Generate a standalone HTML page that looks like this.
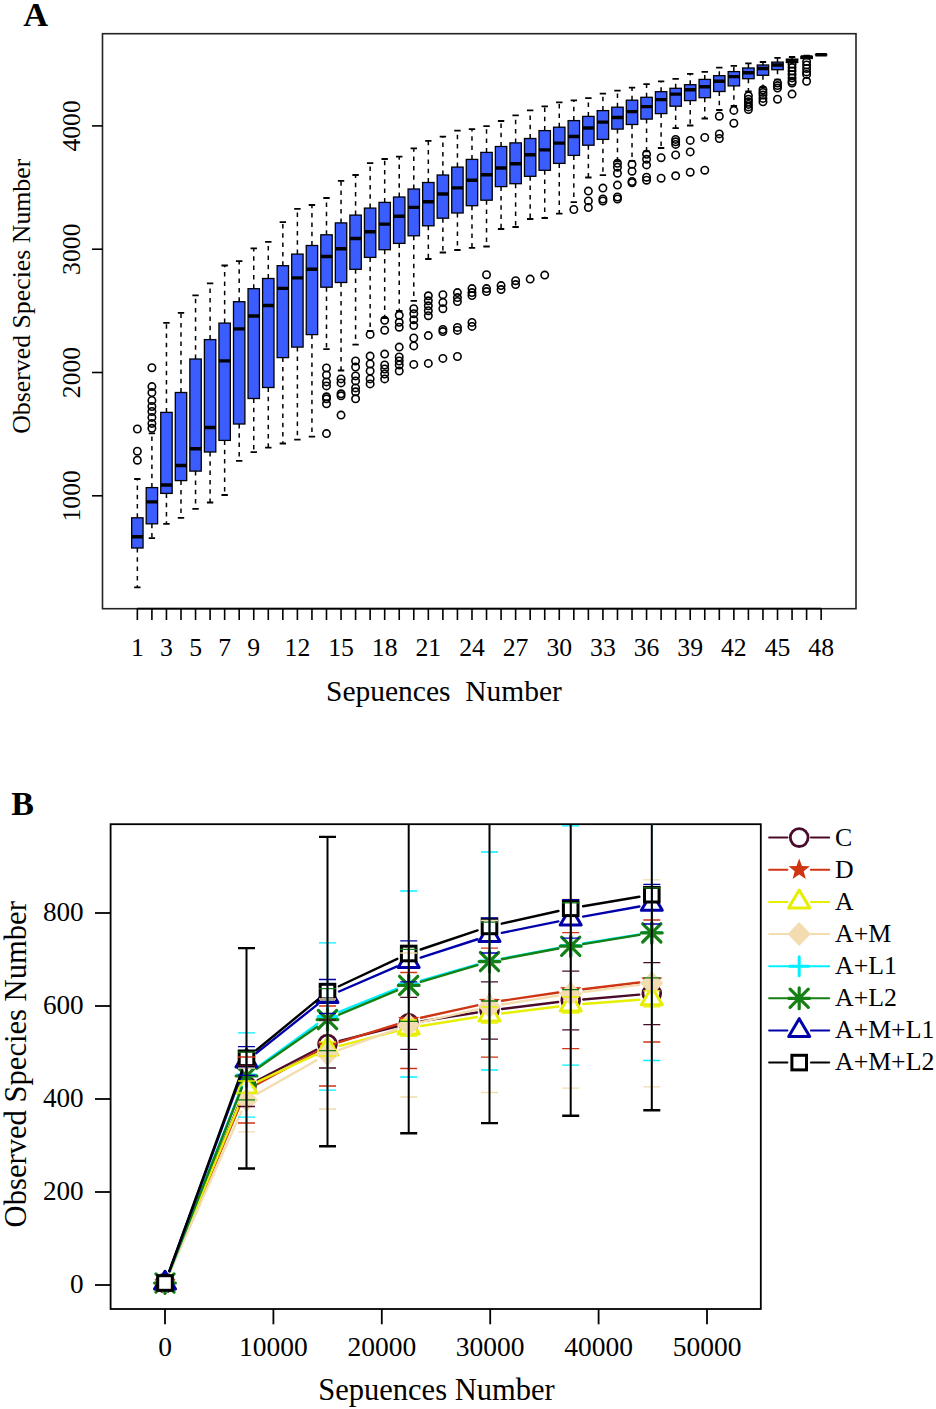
<!DOCTYPE html>
<html><head><meta charset="utf-8"><style>
html,body{margin:0;padding:0;background:#fff;}
svg{display:block;}
.t{font-family:"Liberation Serif",serif;fill:#000;}
</style></head><body>
<svg width="936" height="1409" viewBox="0 0 936 1409">
<rect width="936" height="1409" fill="#fff"/>
<rect x="102.5" y="33.7" width="753.5" height="575" fill="none" stroke="#222" stroke-width="1.6"/>
<path d="M137.35 608.7H821.15" stroke="#000" stroke-width="1.8"/>
<path d="M137.35 608.7V620M151.9 608.7V620M166.45 608.7V620M181 608.7V620M195.55 608.7V620M210.09 608.7V620M224.64 608.7V620M239.19 608.7V620M253.74 608.7V620M268.29 608.7V620M282.84 608.7V620M297.39 608.7V620M311.94 608.7V620M326.49 608.7V620M341.04 608.7V620M355.58 608.7V620M370.13 608.7V620M384.68 608.7V620M399.23 608.7V620M413.78 608.7V620M428.33 608.7V620M442.88 608.7V620M457.43 608.7V620M471.98 608.7V620M486.53 608.7V620M501.07 608.7V620M515.62 608.7V620M530.17 608.7V620M544.72 608.7V620M559.27 608.7V620M573.82 608.7V620M588.37 608.7V620M602.92 608.7V620M617.47 608.7V620M632.02 608.7V620M646.56 608.7V620M661.11 608.7V620M675.66 608.7V620M690.21 608.7V620M704.76 608.7V620M719.31 608.7V620M733.86 608.7V620M748.41 608.7V620M762.96 608.7V620M777.51 608.7V620M792.05 608.7V620M806.6 608.7V620M821.15 608.7V620" stroke="#000" stroke-width="1.6"/>
<text x="137.35" y="656" text-anchor="middle" class="t" font-size="25.7">1</text>
<text x="166.45" y="656" text-anchor="middle" class="t" font-size="25.7">3</text>
<text x="195.55" y="656" text-anchor="middle" class="t" font-size="25.7">5</text>
<text x="224.64" y="656" text-anchor="middle" class="t" font-size="25.7">7</text>
<text x="253.74" y="656" text-anchor="middle" class="t" font-size="25.7">9</text>
<text x="297.39" y="656" text-anchor="middle" class="t" font-size="25.7">12</text>
<text x="341.04" y="656" text-anchor="middle" class="t" font-size="25.7">15</text>
<text x="384.68" y="656" text-anchor="middle" class="t" font-size="25.7">18</text>
<text x="428.33" y="656" text-anchor="middle" class="t" font-size="25.7">21</text>
<text x="471.98" y="656" text-anchor="middle" class="t" font-size="25.7">24</text>
<text x="515.62" y="656" text-anchor="middle" class="t" font-size="25.7">27</text>
<text x="559.27" y="656" text-anchor="middle" class="t" font-size="25.7">30</text>
<text x="602.92" y="656" text-anchor="middle" class="t" font-size="25.7">33</text>
<text x="646.56" y="656" text-anchor="middle" class="t" font-size="25.7">36</text>
<text x="690.21" y="656" text-anchor="middle" class="t" font-size="25.7">39</text>
<text x="733.86" y="656" text-anchor="middle" class="t" font-size="25.7">42</text>
<text x="777.51" y="656" text-anchor="middle" class="t" font-size="25.7">45</text>
<text x="821.15" y="656" text-anchor="middle" class="t" font-size="25.7">48</text>
<path d="M92 495.8H102.5" stroke="#000" stroke-width="1.6"/>
<text transform="translate(80.2 495.8) rotate(-90)" text-anchor="middle" class="t" font-size="25.7">1000</text>
<path d="M92 372.5H102.5" stroke="#000" stroke-width="1.6"/>
<text transform="translate(80.2 372.5) rotate(-90)" text-anchor="middle" class="t" font-size="25.7">2000</text>
<path d="M92 249.2H102.5" stroke="#000" stroke-width="1.6"/>
<text transform="translate(80.2 249.2) rotate(-90)" text-anchor="middle" class="t" font-size="25.7">3000</text>
<path d="M92 125.9H102.5" stroke="#000" stroke-width="1.6"/>
<text transform="translate(80.2 125.9) rotate(-90)" text-anchor="middle" class="t" font-size="25.7">4000</text>
<text transform="translate(29.8 433.8) rotate(-90)" class="t" font-size="25.8">Observed Species Number</text>
<text x="326" y="701" class="t" font-size="29.5" xml:space="preserve">Sepuences  Number</text>
<text x="23.2" y="25.6" class="t" font-size="34.5" font-weight="bold">A</text>
<path d="M137.35 517.8V479M137.35 548V587.4M151.9 487.6V433.3M151.9 523.8V538.1M166.45 412.4V322.8M166.45 493.4V523.8M181 392.5V312.8M181 480.6V517.8M195.55 359V295.3M195.55 471.1V508.9M210.09 339.6V283.4M210.09 452V502.5M224.64 323.1V265.5M224.64 440.4V495M239.19 301.7V261.1M239.19 424V460.8M253.74 288.7V248.3M253.74 398.5V452.1M268.29 278.5V241.8M268.29 387.5V447.7M282.84 265.7V222.2M282.84 357.6V443.5M297.39 254.1V208.9M297.39 347.1V439.6M311.94 245.5V205M311.94 334.6V436.6M326.49 234.8V198M326.49 287.2V349.1M341.04 222.9V180.9M341.04 282.5V370.5M355.58 215.1V175M355.58 269.3V344.6M370.13 208.1V163.2M370.13 257.4V331M384.68 202.4V159M384.68 249.7V318M399.23 197V156.7M399.23 243.4V311M413.78 189V148.3M413.78 235.8V300.8M428.33 182.5V140.8M428.33 225.8V259M442.88 175V136.6M442.88 218.2V252.5M457.43 167.1V130.7M457.43 213V250M471.98 159.4V129.2M471.98 205.7V247.9M486.53 152.4V126.2M486.53 200.2V246.5M501.07 146.5V121M501.07 186.6V229M515.62 142.9V115.3M515.62 183.7V227M530.17 138.5V110.3M530.17 176.3V219M544.72 130.6V106.3M544.72 170.3V218M559.27 127.2V102.3M559.27 163.4V213.7M573.82 120.6V100.4M573.82 155.4V202.1M588.37 116.4V98.2M588.37 145.2V177.5M602.92 110.6V93.7M602.92 139.4V175.2M617.47 107.2V90.7M617.47 129.1V161.3M632.02 100.2V87.7M632.02 124.5V160.9M646.56 97.3V84.1M646.56 119.1V151.3M661.11 91.7V81.4M661.11 113.6V148M675.66 88.3V78.8M675.66 106.2V128.1M690.21 84.7V73.8M690.21 100.6V125.5M704.76 79.4V71.8M704.76 97.7V118.5M719.31 75.7V67.6M719.31 91.5V110M733.86 71.6V65.8M733.86 85.9V106M748.41 68V63.3M748.41 78.7V91.5M762.96 65V62M762.96 75.3V87.3M777.51 62.1V57.9M777.51 69.7V79.6M792.05 59.1V57M806.6 56.5V55.6" stroke="#000" stroke-width="1.5" stroke-dasharray="4.5 4.8" fill="none"/>
<path d="M134.15 479H140.55M134.15 587.4H140.55M148.7 433.3H155.1M148.7 538.1H155.1M163.25 322.8H169.65M163.25 523.8H169.65M177.8 312.8H184.2M177.8 517.8H184.2M192.35 295.3H198.75M192.35 508.9H198.75M206.9 283.4H213.29M206.9 502.5H213.29M221.44 265.5H227.84M221.44 495H227.84M235.99 261.1H242.39M235.99 460.8H242.39M250.54 248.3H256.94M250.54 452.1H256.94M265.09 241.8H271.49M265.09 447.7H271.49M279.64 222.2H286.04M279.64 443.5H286.04M294.19 208.9H300.59M294.19 439.6H300.59M308.74 205H315.14M308.74 436.6H315.14M323.29 198H329.69M323.29 349.1H329.69M337.84 180.9H344.24M337.84 370.5H344.24M352.38 175H358.78M352.38 344.6H358.78M366.93 163.2H373.33M366.93 331H373.33M381.48 159H387.88M381.48 318H387.88M396.03 156.7H402.43M396.03 311H402.43M410.58 148.3H416.98M410.58 300.8H416.98M425.13 140.8H431.53M425.13 259H431.53M439.68 136.6H446.08M439.68 252.5H446.08M454.23 130.7H460.63M454.23 250H460.63M468.78 129.2H475.18M468.78 247.9H475.18M483.33 126.2H489.73M483.33 246.5H489.73M497.87 121H504.27M497.87 229H504.27M512.42 115.3H518.82M512.42 227H518.82M526.97 110.3H533.37M526.97 219H533.37M541.52 106.3H547.92M541.52 218H547.92M556.07 102.3H562.47M556.07 213.7H562.47M570.62 100.4H577.02M570.62 202.1H577.02M585.17 98.2H591.57M585.17 177.5H591.57M599.72 93.7H606.12M599.72 175.2H606.12M614.27 90.7H620.67M614.27 161.3H620.67M628.82 87.7H635.22M628.82 160.9H635.22M643.36 84.1H649.76M643.36 151.3H649.76M657.91 81.4H664.31M657.91 148H664.31M672.46 78.8H678.86M672.46 128.1H678.86M687.01 73.8H693.41M687.01 125.5H693.41M701.56 71.8H707.96M701.56 118.5H707.96M716.11 67.6H722.51M716.11 110H722.51M730.66 65.8H737.06M730.66 106H737.06M745.21 63.3H751.61M745.21 91.5H751.61M759.76 62H766.16M759.76 87.3H766.16M774.31 57.9H780.71M774.31 79.6H780.71M788.85 57H795.25M788.85 62.5H795.25M803.4 55.6H809.8M803.4 58.5H809.8M817.95 54.8H824.35M817.95 54.8H824.35" stroke="#000" stroke-width="1.8" fill="none"/>
<g fill="#3b5cff" stroke="#000" stroke-width="1.3"><rect x="131.65" y="517.8" width="11.4" height="30.2"/><rect x="146.2" y="487.6" width="11.4" height="36.2"/><rect x="160.75" y="412.4" width="11.4" height="81"/><rect x="175.3" y="392.5" width="11.4" height="88.1"/><rect x="189.85" y="359" width="11.4" height="112.1"/><rect x="204.4" y="339.6" width="11.4" height="112.4"/><rect x="218.94" y="323.1" width="11.4" height="117.3"/><rect x="233.49" y="301.7" width="11.4" height="122.3"/><rect x="248.04" y="288.7" width="11.4" height="109.8"/><rect x="262.59" y="278.5" width="11.4" height="109"/><rect x="277.14" y="265.7" width="11.4" height="91.9"/><rect x="291.69" y="254.1" width="11.4" height="93"/><rect x="306.24" y="245.5" width="11.4" height="89.1"/><rect x="320.79" y="234.8" width="11.4" height="52.4"/><rect x="335.34" y="222.9" width="11.4" height="59.6"/><rect x="349.88" y="215.1" width="11.4" height="54.2"/><rect x="364.43" y="208.1" width="11.4" height="49.3"/><rect x="378.98" y="202.4" width="11.4" height="47.3"/><rect x="393.53" y="197" width="11.4" height="46.4"/><rect x="408.08" y="189" width="11.4" height="46.8"/><rect x="422.63" y="182.5" width="11.4" height="43.3"/><rect x="437.18" y="175" width="11.4" height="43.2"/><rect x="451.73" y="167.1" width="11.4" height="45.9"/><rect x="466.28" y="159.4" width="11.4" height="46.3"/><rect x="480.83" y="152.4" width="11.4" height="47.8"/><rect x="495.37" y="146.5" width="11.4" height="40.1"/><rect x="509.92" y="142.9" width="11.4" height="40.8"/><rect x="524.47" y="138.5" width="11.4" height="37.8"/><rect x="539.02" y="130.6" width="11.4" height="39.7"/><rect x="553.57" y="127.2" width="11.4" height="36.2"/><rect x="568.12" y="120.6" width="11.4" height="34.8"/><rect x="582.67" y="116.4" width="11.4" height="28.8"/><rect x="597.22" y="110.6" width="11.4" height="28.8"/><rect x="611.77" y="107.2" width="11.4" height="21.9"/><rect x="626.32" y="100.2" width="11.4" height="24.3"/><rect x="640.86" y="97.3" width="11.4" height="21.8"/><rect x="655.41" y="91.7" width="11.4" height="21.9"/><rect x="669.96" y="88.3" width="11.4" height="17.9"/><rect x="684.51" y="84.7" width="11.4" height="15.9"/><rect x="699.06" y="79.4" width="11.4" height="18.3"/><rect x="713.61" y="75.7" width="11.4" height="15.8"/><rect x="728.16" y="71.6" width="11.4" height="14.3"/><rect x="742.71" y="68" width="11.4" height="10.7"/><rect x="757.26" y="65" width="11.4" height="10.3"/><rect x="771.81" y="62.1" width="11.4" height="7.6"/><rect x="786.35" y="59.1" width="11.4" height="3.4"/><rect x="800.9" y="56.5" width="11.4" height="2"/><rect x="815.45" y="54.8" width="11.4" height="0.01"/></g>
<path d="M131.65 536.7H143.05M146.2 501.9H157.6M160.75 485H172.15M175.3 465.5H186.7M189.85 448.8H201.25M204.4 427.5H215.79M218.94 360.9H230.34M233.49 328.9H244.89M248.04 316H259.44M262.59 305.5H273.99M277.14 288.4H288.54M291.69 277.9H303.09M306.24 269.3H317.64M320.79 256.5H332.19M335.34 248.7H346.74M349.88 238.5H361.28M364.43 231.8H375.83M378.98 224.1H390.38M393.53 216.3H404.93M408.08 207.4H419.48M422.63 201.8H434.03M437.18 194H448.58M451.73 187.9H463.13M466.28 180.3H477.68M480.83 174.7H492.23M495.37 168H506.77M509.92 163.8H521.32M524.47 154.8H535.87M539.02 149.9H550.42M553.57 143.1H564.97M568.12 136.5H579.52M582.67 128H594.07M597.22 122.1H608.62M611.77 117.5H623.17M626.32 111.6H637.72M640.86 106.6H652.26M655.41 99.6H666.81M669.96 94.1H681.36M684.51 89.7H695.91M699.06 86.7H710.46M713.61 81.2H725.01M728.16 76.6H739.56M742.71 72.7H754.11M757.26 68.5H768.66M771.81 65H783.21M786.35 60.8H797.75M800.9 57H812.3M815.45 54.8H826.85" stroke="#000" stroke-width="3.4" fill="none"/>
<g fill="none" stroke="#000" stroke-width="1.6"><circle cx="137.35" cy="429" r="3.7"/><circle cx="137.35" cy="451.2" r="3.7"/><circle cx="137.35" cy="460.2" r="3.7"/><circle cx="151.9" cy="367.7" r="3.7"/><circle cx="151.9" cy="386.6" r="3.7"/><circle cx="151.9" cy="392.6" r="3.7"/><circle cx="151.9" cy="400.5" r="3.7"/><circle cx="151.9" cy="406.5" r="3.7"/><circle cx="151.9" cy="411.5" r="3.7"/><circle cx="151.9" cy="417.4" r="3.7"/><circle cx="151.9" cy="423.4" r="3.7"/><circle cx="151.9" cy="428.3" r="3.7"/><circle cx="326.49" cy="368" r="3.7"/><circle cx="326.49" cy="375" r="3.7"/><circle cx="326.49" cy="381.9" r="3.7"/><circle cx="326.49" cy="385.9" r="3.7"/><circle cx="326.49" cy="396.8" r="3.7"/><circle cx="326.49" cy="398.8" r="3.7"/><circle cx="326.49" cy="403.8" r="3.7"/><circle cx="326.49" cy="433.6" r="3.7"/><circle cx="341.04" cy="378.9" r="3.7"/><circle cx="341.04" cy="382.9" r="3.7"/><circle cx="341.04" cy="393.8" r="3.7"/><circle cx="341.04" cy="395.8" r="3.7"/><circle cx="341.04" cy="415.1" r="3.7"/><circle cx="355.58" cy="361" r="3.7"/><circle cx="355.58" cy="367" r="3.7"/><circle cx="355.58" cy="375.9" r="3.7"/><circle cx="355.58" cy="380.9" r="3.7"/><circle cx="355.58" cy="387.9" r="3.7"/><circle cx="355.58" cy="391.8" r="3.7"/><circle cx="355.58" cy="398.8" r="3.7"/><circle cx="370.13" cy="334.4" r="3.7"/><circle cx="370.13" cy="356.1" r="3.7"/><circle cx="370.13" cy="364" r="3.7"/><circle cx="370.13" cy="371" r="3.7"/><circle cx="370.13" cy="378.9" r="3.7"/><circle cx="370.13" cy="383.9" r="3.7"/><circle cx="384.68" cy="320.3" r="3.7"/><circle cx="384.68" cy="330.2" r="3.7"/><circle cx="384.68" cy="354.1" r="3.7"/><circle cx="384.68" cy="365" r="3.7"/><circle cx="384.68" cy="369" r="3.7"/><circle cx="384.68" cy="374" r="3.7"/><circle cx="384.68" cy="378.9" r="3.7"/><circle cx="399.23" cy="315.3" r="3.7"/><circle cx="399.23" cy="322.3" r="3.7"/><circle cx="399.23" cy="327.2" r="3.7"/><circle cx="399.23" cy="347.1" r="3.7"/><circle cx="399.23" cy="357" r="3.7"/><circle cx="399.23" cy="361" r="3.7"/><circle cx="399.23" cy="365" r="3.7"/><circle cx="399.23" cy="371" r="3.7"/><circle cx="413.78" cy="308.7" r="3.7"/><circle cx="413.78" cy="313.7" r="3.7"/><circle cx="413.78" cy="319.7" r="3.7"/><circle cx="413.78" cy="325.6" r="3.7"/><circle cx="413.78" cy="338" r="3.7"/><circle cx="413.78" cy="345.9" r="3.7"/><circle cx="413.78" cy="364.4" r="3.7"/><circle cx="428.33" cy="295.8" r="3.7"/><circle cx="428.33" cy="300.8" r="3.7"/><circle cx="428.33" cy="305.8" r="3.7"/><circle cx="428.33" cy="310.7" r="3.7"/><circle cx="428.33" cy="315.7" r="3.7"/><circle cx="428.33" cy="335.6" r="3.7"/><circle cx="428.33" cy="363.4" r="3.7"/><circle cx="442.88" cy="294.7" r="3.7"/><circle cx="442.88" cy="302.5" r="3.7"/><circle cx="442.88" cy="308.7" r="3.7"/><circle cx="442.88" cy="329.5" r="3.7"/><circle cx="442.88" cy="331.6" r="3.7"/><circle cx="442.88" cy="358.4" r="3.7"/><circle cx="457.43" cy="292.6" r="3.7"/><circle cx="457.43" cy="297.6" r="3.7"/><circle cx="457.43" cy="301.5" r="3.7"/><circle cx="457.43" cy="327.4" r="3.7"/><circle cx="457.43" cy="330.4" r="3.7"/><circle cx="457.43" cy="356.5" r="3.7"/><circle cx="471.98" cy="288.6" r="3.7"/><circle cx="471.98" cy="292.6" r="3.7"/><circle cx="471.98" cy="295.6" r="3.7"/><circle cx="471.98" cy="322.4" r="3.7"/><circle cx="471.98" cy="326.4" r="3.7"/><circle cx="486.53" cy="274.7" r="3.7"/><circle cx="486.53" cy="288.6" r="3.7"/><circle cx="486.53" cy="291.6" r="3.7"/><circle cx="501.07" cy="285.6" r="3.7"/><circle cx="501.07" cy="289.6" r="3.7"/><circle cx="515.62" cy="280.7" r="3.7"/><circle cx="515.62" cy="284.6" r="3.7"/><circle cx="530.17" cy="279.1" r="3.7"/><circle cx="544.72" cy="275.1" r="3.7"/><circle cx="573.82" cy="209.5" r="3.7"/><circle cx="588.37" cy="191.1" r="3.7"/><circle cx="588.37" cy="200.9" r="3.7"/><circle cx="588.37" cy="207.6" r="3.7"/><circle cx="602.92" cy="188.1" r="3.7"/><circle cx="602.92" cy="199" r="3.7"/><circle cx="602.92" cy="201" r="3.7"/><circle cx="617.47" cy="163.3" r="3.7"/><circle cx="617.47" cy="167.2" r="3.7"/><circle cx="617.47" cy="173.2" r="3.7"/><circle cx="617.47" cy="185.1" r="3.7"/><circle cx="617.47" cy="197" r="3.7"/><circle cx="617.47" cy="199" r="3.7"/><circle cx="632.02" cy="164.3" r="3.7"/><circle cx="632.02" cy="171.2" r="3.7"/><circle cx="632.02" cy="181.5" r="3.7"/><circle cx="632.02" cy="182.7" r="3.7"/><circle cx="646.56" cy="154.3" r="3.7"/><circle cx="646.56" cy="159.3" r="3.7"/><circle cx="646.56" cy="164.9" r="3.7"/><circle cx="646.56" cy="177.2" r="3.7"/><circle cx="646.56" cy="180.2" r="3.7"/><circle cx="661.11" cy="157.7" r="3.7"/><circle cx="661.11" cy="178.2" r="3.7"/><circle cx="675.66" cy="139.4" r="3.7"/><circle cx="675.66" cy="141.8" r="3.7"/><circle cx="675.66" cy="144.4" r="3.7"/><circle cx="675.66" cy="154.9" r="3.7"/><circle cx="675.66" cy="175.8" r="3.7"/><circle cx="690.21" cy="140.4" r="3.7"/><circle cx="690.21" cy="151.9" r="3.7"/><circle cx="690.21" cy="172.2" r="3.7"/><circle cx="704.76" cy="137.4" r="3.7"/><circle cx="704.76" cy="170.2" r="3.7"/><circle cx="719.31" cy="116.2" r="3.7"/><circle cx="719.31" cy="133.9" r="3.7"/><circle cx="719.31" cy="138.5" r="3.7"/><circle cx="733.86" cy="110.4" r="3.7"/><circle cx="733.86" cy="123.2" r="3.7"/><circle cx="748.41" cy="95.8" r="3.7"/><circle cx="748.41" cy="99.2" r="3.7"/><circle cx="748.41" cy="101.8" r="3.7"/><circle cx="748.41" cy="104.4" r="3.7"/><circle cx="748.41" cy="106.9" r="3.7"/><circle cx="748.41" cy="109.5" r="3.7"/><circle cx="762.96" cy="89.8" r="3.7"/><circle cx="762.96" cy="92.4" r="3.7"/><circle cx="762.96" cy="95" r="3.7"/><circle cx="762.96" cy="98.4" r="3.7"/><circle cx="762.96" cy="101.8" r="3.7"/><circle cx="777.51" cy="83" r="3.7"/><circle cx="777.51" cy="85.6" r="3.7"/><circle cx="777.51" cy="88.1" r="3.7"/><circle cx="777.51" cy="99.2" r="3.7"/><circle cx="792.05" cy="64.2" r="3.7"/><circle cx="792.05" cy="67.6" r="3.7"/><circle cx="792.05" cy="71" r="3.7"/><circle cx="792.05" cy="74.4" r="3.7"/><circle cx="792.05" cy="77.9" r="3.7"/><circle cx="792.05" cy="81.3" r="3.7"/><circle cx="792.05" cy="83" r="3.7"/><circle cx="792.05" cy="94.1" r="3.7"/><circle cx="806.6" cy="61.6" r="3.7"/><circle cx="806.6" cy="65" r="3.7"/><circle cx="806.6" cy="68.5" r="3.7"/><circle cx="806.6" cy="71.9" r="3.7"/><circle cx="806.6" cy="74.4" r="3.7"/><circle cx="806.6" cy="81.3" r="3.7"/></g>
<text x="11.2" y="815" class="t" font-size="34" font-weight="bold">B</text>
<rect x="110.6" y="824.2" width="650.2" height="484.8" fill="none" stroke="#000" stroke-width="1.8"/>
<path d="M95 1285H110.6" stroke="#000" stroke-width="1.8"/>
<text x="83.7" y="1293.3" text-anchor="end" class="t" font-size="27.2">0</text>
<path d="M95 1192H110.6" stroke="#000" stroke-width="1.8"/>
<text x="83.7" y="1200.3" text-anchor="end" class="t" font-size="27.2">200</text>
<path d="M95 1099H110.6" stroke="#000" stroke-width="1.8"/>
<text x="83.7" y="1107.3" text-anchor="end" class="t" font-size="27.2">400</text>
<path d="M95 1006H110.6" stroke="#000" stroke-width="1.8"/>
<text x="83.7" y="1014.3" text-anchor="end" class="t" font-size="27.2">600</text>
<path d="M95 913H110.6" stroke="#000" stroke-width="1.8"/>
<text x="83.7" y="921.3" text-anchor="end" class="t" font-size="27.2">800</text>
<path d="M165 1309V1324.3" stroke="#000" stroke-width="1.8"/>
<text x="165" y="1356.4" text-anchor="middle" class="t" font-size="27.5">0</text>
<path d="M273.4 1309V1324.3" stroke="#000" stroke-width="1.8"/>
<text x="273.4" y="1356.4" text-anchor="middle" class="t" font-size="27.5">10000</text>
<path d="M381.8 1309V1324.3" stroke="#000" stroke-width="1.8"/>
<text x="381.8" y="1356.4" text-anchor="middle" class="t" font-size="27.5">20000</text>
<path d="M490.2 1309V1324.3" stroke="#000" stroke-width="1.8"/>
<text x="490.2" y="1356.4" text-anchor="middle" class="t" font-size="27.5">30000</text>
<path d="M598.6 1309V1324.3" stroke="#000" stroke-width="1.8"/>
<text x="598.6" y="1356.4" text-anchor="middle" class="t" font-size="27.5">40000</text>
<path d="M707 1309V1324.3" stroke="#000" stroke-width="1.8"/>
<text x="707" y="1356.4" text-anchor="middle" class="t" font-size="27.5">50000</text>
<text transform="translate(25.5 1227.4) rotate(-90)" class="t" font-size="30.6">Observed Species Number</text>
<text x="318.3" y="1400" class="t" font-size="30.5">Sepuences Number</text>
<defs><clipPath id="cb"><rect x="110.6" y="824.2" width="650.2" height="484.8"/></clipPath></defs>
<g clip-path="url(#cb)">
<path d="M169.82 1271.36L241.68 1097.64M257.69 1080.2L316.31 1049.8M339.71 1040.9L396.49 1026.5M421.14 1021.41L477.06 1012.49M502.01 1008.96L558.19 1002.04M583.25 999.43L639.25 994.67" stroke="#4b0c2c" stroke-width="2.4" stroke-linecap="round" fill="none"/>
<circle cx="165" cy="1283" r="8.9" fill="#fff" stroke="#4b0c2c" stroke-width="2.8"/>
<circle cx="246.5" cy="1086" r="8.9" fill="#fff" stroke="#4b0c2c" stroke-width="2.8"/>
<circle cx="327.5" cy="1044" r="8.9" fill="#fff" stroke="#4b0c2c" stroke-width="2.8"/>
<circle cx="408.7" cy="1023.4" r="8.9" fill="#fff" stroke="#4b0c2c" stroke-width="2.8"/>
<circle cx="489.5" cy="1010.5" r="8.9" fill="#fff" stroke="#4b0c2c" stroke-width="2.8"/>
<circle cx="570.7" cy="1000.5" r="8.9" fill="#fff" stroke="#4b0c2c" stroke-width="2.8"/>
<circle cx="651.8" cy="993.6" r="8.9" fill="#fff" stroke="#4b0c2c" stroke-width="2.8"/>
<path d="M169.9 1271.39L241.6 1101.61M257.57 1083.99L316.43 1052.01M339.52 1042.22L396.68 1024.28M421 1017.77L477.2 1005.33M501.97 1000.77L558.23 992.53M583.21 989.2L639.29 982.5" stroke="#cf3512" stroke-width="2.4" stroke-linecap="round" fill="none"/>
<polygon points="165,1271.7 167.76,1279.2 175.75,1279.51 169.47,1284.45 171.64,1292.14 165,1287.7 158.36,1292.14 160.53,1284.45 154.25,1279.51 162.24,1279.2" fill="#cf3512"/>
<polygon points="246.5,1078.7 249.26,1086.2 257.25,1086.51 250.97,1091.45 253.14,1099.14 246.5,1094.7 239.86,1099.14 242.03,1091.45 235.75,1086.51 243.74,1086.2" fill="#cf3512"/>
<polygon points="327.5,1034.7 330.26,1042.2 338.25,1042.51 331.97,1047.45 334.14,1055.14 327.5,1050.7 320.86,1055.14 323.03,1047.45 316.75,1042.51 324.74,1042.2" fill="#cf3512"/>
<polygon points="408.7,1009.2 411.46,1016.7 419.45,1017.01 413.17,1021.95 415.34,1029.64 408.7,1025.2 402.06,1029.64 404.23,1021.95 397.95,1017.01 405.94,1016.7" fill="#cf3512"/>
<polygon points="489.5,991.3 492.26,998.8 500.25,999.11 493.97,1004.05 496.14,1011.74 489.5,1007.3 482.86,1011.74 485.03,1004.05 478.75,999.11 486.74,998.8" fill="#cf3512"/>
<polygon points="570.7,979.4 573.46,986.9 581.45,987.21 575.17,992.15 577.34,999.84 570.7,995.4 564.06,999.84 566.23,992.15 559.95,987.21 567.94,986.9" fill="#cf3512"/>
<polygon points="651.8,969.7 654.56,977.2 662.55,977.51 656.27,982.45 658.44,990.14 651.8,985.7 645.16,990.14 647.33,982.45 641.05,977.51 649.04,977.2" fill="#cf3512"/>
<path d="M169.84 1271.37L241.66 1098.63M257.91 1081.65L316.09 1054.35M339.7 1045.85L396.5 1031.15M421.14 1026L477.06 1017M502.01 1013.46L558.19 1006.54M583.26 1004.04L639.24 999.76" stroke="#e6ef00" stroke-width="2.4" stroke-linecap="round" fill="none"/>
<path d="M165 1271.2L175.5 1289L154.5 1289Z" fill="#fff" stroke="#e6ef00" stroke-width="3" stroke-linejoin="round"/>
<path d="M246.5 1075.2L257 1093L236 1093Z" fill="#fff" stroke="#e6ef00" stroke-width="3" stroke-linejoin="round"/>
<path d="M327.5 1037.2L338 1055L317 1055Z" fill="#fff" stroke="#e6ef00" stroke-width="3" stroke-linejoin="round"/>
<path d="M408.7 1016.2L419.2 1034L398.2 1034Z" fill="#fff" stroke="#e6ef00" stroke-width="3" stroke-linejoin="round"/>
<path d="M489.5 1003.2L500 1021L479 1021Z" fill="#fff" stroke="#e6ef00" stroke-width="3" stroke-linejoin="round"/>
<path d="M570.7 993.2L581.2 1011L560.2 1011Z" fill="#fff" stroke="#e6ef00" stroke-width="3" stroke-linejoin="round"/>
<path d="M651.8 987L662.3 1004.8L641.3 1004.8Z" fill="#fff" stroke="#e6ef00" stroke-width="3" stroke-linejoin="round"/>
<path d="M170.13 1271.49L241.37 1111.51M257.46 1093.78L316.54 1060.22M339.37 1049.76L396.83 1029.24M420.98 1022.19L477.22 1009.31M501.95 1004.54L558.25 995.66M583.2 992.1L639.3 984.9" stroke="#f2dcb0" stroke-width="2.4" stroke-linecap="round" fill="none"/>
<path d="M165 1271L176.6 1283L165 1295L153.4 1283Z" fill="#f2dcb0"/>
<path d="M246.5 1088L258.1 1100L246.5 1112L234.9 1100Z" fill="#f2dcb0"/>
<path d="M327.5 1042L339.1 1054L327.5 1066L315.9 1054Z" fill="#f2dcb0"/>
<path d="M408.7 1013L420.3 1025L408.7 1037L397.1 1025Z" fill="#f2dcb0"/>
<path d="M489.5 994.5L501.1 1006.5L489.5 1018.5L477.9 1006.5Z" fill="#f2dcb0"/>
<path d="M570.7 981.7L582.3 993.7L570.7 1005.7L559.1 993.7Z" fill="#f2dcb0"/>
<path d="M651.8 971.3L663.4 983.3L651.8 995.3L640.2 983.3Z" fill="#f2dcb0"/>
<path d="M169.6 1271.27L241.9 1086.73M256.71 1067.62L317.29 1023.88M339.2 1011.82L397 988.68M420.82 980.55L477.38 964.45M501.88 958.64L558.32 947.86M583.14 943.51L639.36 934.49" stroke="#00f0ff" stroke-width="2.4" stroke-linecap="round" fill="none"/>
<path d="M165 1273.5V1292.5 M155.5 1283H174.5" stroke="#00f0ff" stroke-width="3" stroke-linecap="round" fill="none"/>
<path d="M246.5 1065.5V1084.5 M237 1075H256" stroke="#00f0ff" stroke-width="3" stroke-linecap="round" fill="none"/>
<path d="M327.5 1007V1026 M318 1016.5H337" stroke="#00f0ff" stroke-width="3" stroke-linecap="round" fill="none"/>
<path d="M408.7 974.5V993.5 M399.2 984H418.2" stroke="#00f0ff" stroke-width="3" stroke-linecap="round" fill="none"/>
<path d="M489.5 951.5V970.5 M480 961H499" stroke="#00f0ff" stroke-width="3" stroke-linecap="round" fill="none"/>
<path d="M570.7 936V955 M561.2 945.5H580.2" stroke="#00f0ff" stroke-width="3" stroke-linecap="round" fill="none"/>
<path d="M651.8 923V942 M642.3 932.5H661.3" stroke="#00f0ff" stroke-width="3" stroke-linecap="round" fill="none"/>
<path d="M169.62 1271.28L241.88 1087.72M256.84 1068.8L317.16 1026.8M339.11 1014.71L397.09 990.29M420.79 981.84L477.41 965.16M501.88 959.25L558.32 948.55M583.13 944.16L639.37 934.94" stroke="#158015" stroke-width="2.4" stroke-linecap="round" fill="none"/>
<path d="M165 1272.6V1293.4 M154.6 1283H175.4 M155.9 1273.9L174.1 1292.1 M155.9 1292.1L174.1 1273.9" stroke="#158015" stroke-width="3.2" stroke-linecap="round" fill="none"/>
<path d="M246.5 1065.6V1086.4 M236.1 1076H256.9 M237.4 1066.9L255.6 1085.1 M237.4 1085.1L255.6 1066.9" stroke="#158015" stroke-width="3.2" stroke-linecap="round" fill="none"/>
<path d="M327.5 1009.2V1030 M317.1 1019.6H337.9 M318.4 1010.5L336.6 1028.7 M318.4 1028.7L336.6 1010.5" stroke="#158015" stroke-width="3.2" stroke-linecap="round" fill="none"/>
<path d="M408.7 975V995.8 M398.3 985.4H419.1 M399.6 976.3L417.8 994.5 M399.6 994.5L417.8 976.3" stroke="#158015" stroke-width="3.2" stroke-linecap="round" fill="none"/>
<path d="M489.5 951.2V972 M479.1 961.6H499.9 M480.4 952.5L498.6 970.7 M480.4 970.7L498.6 952.5" stroke="#158015" stroke-width="3.2" stroke-linecap="round" fill="none"/>
<path d="M570.7 935.8V956.6 M560.3 946.2H581.1 M561.6 937.1L579.8 955.3 M561.6 955.3L579.8 937.1" stroke="#158015" stroke-width="3.2" stroke-linecap="round" fill="none"/>
<path d="M651.8 922.5V943.3 M641.4 932.9H662.2 M642.7 923.8L660.9 942 M642.7 942L660.9 923.8" stroke="#158015" stroke-width="3.2" stroke-linecap="round" fill="none"/>
<path d="M169.34 1271.17L242.16 1072.83M256.36 1053.15L317.64 1004.35M339.07 991.5L397.13 966.4M420.69 957.54L477.51 939.26M501.85 932.89L558.35 921.41M583.1 916.65L639.4 906.45" stroke="#0000aa" stroke-width="2.4" stroke-linecap="round" fill="none"/>
<path d="M165 1271.2L175.5 1289L154.5 1289Z" fill="#fff" stroke="#0000aa" stroke-width="3" stroke-linejoin="round"/>
<path d="M246.5 1049.2L257 1067L236 1067Z" fill="#fff" stroke="#0000aa" stroke-width="3" stroke-linejoin="round"/>
<path d="M327.5 984.7L338 1002.5L317 1002.5Z" fill="#fff" stroke="#0000aa" stroke-width="3" stroke-linejoin="round"/>
<path d="M408.7 949.6L419.2 967.4L398.2 967.4Z" fill="#fff" stroke="#0000aa" stroke-width="3" stroke-linejoin="round"/>
<path d="M489.5 923.6L500 941.4L479 941.4Z" fill="#fff" stroke="#0000aa" stroke-width="3" stroke-linejoin="round"/>
<path d="M570.7 907.1L581.2 924.9L560.2 924.9Z" fill="#fff" stroke="#0000aa" stroke-width="3" stroke-linejoin="round"/>
<path d="M651.8 892.4L662.3 910.2L641.3 910.2Z" fill="#fff" stroke="#0000aa" stroke-width="3" stroke-linejoin="round"/>
<path d="M169.3 1271.16L242.2 1070.14M256.23 1050.29L317.77 999.61M338.91 986.25L397.29 958.85M420.65 949.49L477.55 930.41M501.8 923.66L558.4 911.04M583.13 906.22L639.37 896.78" stroke="#000000" stroke-width="2.4" stroke-linecap="round" fill="none"/>
<rect x="157.7" y="1275.7" width="14.6" height="14.6" fill="#fff" stroke="#000000" stroke-width="3"/>
<rect x="239.2" y="1051" width="14.6" height="14.6" fill="#fff" stroke="#000000" stroke-width="3"/>
<rect x="320.2" y="984.3" width="14.6" height="14.6" fill="#fff" stroke="#000000" stroke-width="3"/>
<rect x="401.4" y="946.2" width="14.6" height="14.6" fill="#fff" stroke="#000000" stroke-width="3"/>
<rect x="482.2" y="919.1" width="14.6" height="14.6" fill="#fff" stroke="#000000" stroke-width="3"/>
<rect x="563.4" y="901" width="14.6" height="14.6" fill="#fff" stroke="#000000" stroke-width="3"/>
<rect x="644.5" y="887.4" width="14.6" height="14.6" fill="#fff" stroke="#000000" stroke-width="3"/>
<path d="M246.5 1065.5V1106.5M327.5 1020V1068M408.7 997.4V1049.4M489.5 981.8V1039.2M570.7 971.1V1029.9M651.8 962.6V1024.6M238 1065.5H255 M238 1106.5H255M319 1020H336 M319 1068H336M400.2 997.4H417.2 M400.2 1049.4H417.2M481 981.8H498 M481 1039.2H498M562.2 971.1H579.2 M562.2 1029.9H579.2M643.3 962.6H660.3 M643.3 1024.6H660.3" stroke="#4b0c2c" stroke-width="1.3" fill="none"/>
<path d="M246.5 1057V1123M327.5 1006V1086M408.7 972.5V1068.5M489.5 948.1V1057.1M570.7 932.7V1048.7M651.8 920V1042M238 1057H255 M238 1123H255M319 1006H336 M319 1086H336M400.2 972.5H417.2 M400.2 1068.5H417.2M481 948.1H498 M481 1057.1H498M562.2 932.7H579.2 M562.2 1048.7H579.2M643.3 920H660.3 M643.3 1042H660.3" stroke="#cf3512" stroke-width="1.3" fill="none"/>
<path d="M246.5 1081V1093M327.5 1042V1056M408.7 1020V1036M489.5 1007V1023M570.7 997V1013M651.8 990.8V1006.8M238 1081H255 M238 1093H255M319 1042H336 M319 1056H336M400.2 1020H417.2 M400.2 1036H417.2M481 1007H498 M481 1023H498M562.2 997H579.2 M562.2 1013H579.2M643.3 990.8H660.3 M643.3 1006.8H660.3" stroke="#e6ef00" stroke-width="1.3" fill="none"/>
<path d="M246.5 1068.1V1131.9M327.5 999V1109M408.7 953V1097M489.5 920.5V1092.5M570.7 899.2V1088.2M651.8 879.8V1086.8M238 1068.1H255 M238 1131.9H255M319 999H336 M319 1109H336M400.2 953H417.2 M400.2 1097H417.2M481 920.5H498 M481 1092.5H498M562.2 899.2H579.2 M562.2 1088.2H579.2M643.3 879.8H660.3 M643.3 1086.8H660.3" stroke="#f2dcb0" stroke-width="1.3" fill="none"/>
<path d="M246.5 1032.9V1117.1M327.5 942.9V1090.1M408.7 891V1077M489.5 852V1070M570.7 825.8V1065.2M651.8 804.5V1060.5M238 1032.9H255 M238 1117.1H255M319 942.9H336 M319 1090.1H336M400.2 891H417.2 M400.2 1077H417.2M481 852H498 M481 1070H498M562.2 825.8H579.2 M562.2 1065.2H579.2M643.3 804.5H660.3 M643.3 1060.5H660.3" stroke="#00f0ff" stroke-width="1.3" fill="none"/>
<path d="M246.5 1052.2V1099.8M327.5 988.6V1050.6M408.7 949.4V1021.4M489.5 922.2V1001M570.7 902.8V989.6M651.8 887.9V977.9M238 1052.2H255 M238 1099.8H255M319 988.6H336 M319 1050.6H336M400.2 949.4H417.2 M400.2 1021.4H417.2M481 922.2H498 M481 1001H498M562.2 902.8H579.2 M562.2 989.6H579.2M643.3 887.9H660.3 M643.3 977.9H660.3" stroke="#158015" stroke-width="1.3" fill="none"/>
<path d="M246.5 1046.6V1075.4M327.5 979.5V1013.5M408.7 940.9V981.9M489.5 917.8V953M570.7 899.6V938.2M651.8 884.4V924M238 1046.6H255 M238 1075.4H255M319 979.5H336 M319 1013.5H336M400.2 940.9H417.2 M400.2 981.9H417.2M481 917.8H498 M481 953H498M562.2 899.6H579.2 M562.2 938.2H579.2M643.3 884.4H660.3 M643.3 924H660.3" stroke="#0000aa" stroke-width="1.3" fill="none"/>
<path d="M246.5 948.1V1168.5M327.5 836.9V1146.3M408.7 773.7V1133.3M489.5 729.7V1123.1M570.7 700.8V1115.8M651.8 679.2V1110.2" stroke="#000" stroke-width="2" fill="none"/>
<path d="M238 948.1H255 M238 1168.5H255M319 836.9H336 M319 1146.3H336M400.2 773.7H417.2 M400.2 1133.3H417.2M481 729.7H498 M481 1123.1H498M562.2 700.8H579.2 M562.2 1115.8H579.2M643.3 679.2H660.3 M643.3 1110.2H660.3" stroke="#000" stroke-width="2.4" fill="none"/>
</g>
<path d="M769.1 837.6H787.4M810.9 837.6H829.2" stroke="#4b0c2c" stroke-width="2" stroke-linecap="round"/>
<circle cx="799.2" cy="837.6" r="8.9" fill="#fff" stroke="#4b0c2c" stroke-width="2.8"/>
<text x="835" y="845.5" class="t" font-size="25.8">C</text>
<path d="M769.1 869.74H787.4M810.9 869.74H829.2" stroke="#cf3512" stroke-width="2" stroke-linecap="round"/>
<polygon points="799.2,858.44 801.96,865.94 809.95,866.25 803.67,871.19 805.84,878.88 799.2,874.44 792.56,878.88 794.73,871.19 788.45,866.25 796.44,865.94" fill="#cf3512"/>
<text x="835" y="877.64" class="t" font-size="25.8">D</text>
<path d="M769.1 901.88H787.4M810.9 901.88H829.2" stroke="#e6ef00" stroke-width="2" stroke-linecap="round"/>
<path d="M799.2 890.08L809.7 907.88L788.7 907.88Z" fill="#fff" stroke="#e6ef00" stroke-width="3" stroke-linejoin="round"/>
<text x="835" y="909.78" class="t" font-size="25.8">A</text>
<path d="M769.1 934.02H829.2" stroke="#f2dcb0" stroke-width="2" stroke-linecap="round"/>
<path d="M799.2 922.02L810.8 934.02L799.2 946.02L787.6 934.02Z" fill="#f2dcb0"/>
<text x="835" y="941.92" class="t" font-size="25.8">A+M</text>
<path d="M769.1 966.16H829.2" stroke="#00f0ff" stroke-width="2" stroke-linecap="round"/>
<path d="M799.2 956.66V975.66 M789.7 966.16H808.7" stroke="#00f0ff" stroke-width="3" stroke-linecap="round" fill="none"/>
<text x="835" y="974.06" class="t" font-size="25.8">A+L1</text>
<path d="M769.1 998.3H829.2" stroke="#158015" stroke-width="2" stroke-linecap="round"/>
<path d="M799.2 987.9V1008.7 M788.8 998.3H809.6 M790.1 989.2L808.3 1007.4 M790.1 1007.4L808.3 989.2" stroke="#158015" stroke-width="3.2" stroke-linecap="round" fill="none"/>
<text x="835" y="1006.2" class="t" font-size="25.8">A+L2</text>
<path d="M769.1 1030.44H787.4M810.9 1030.44H829.2" stroke="#0000aa" stroke-width="2" stroke-linecap="round"/>
<path d="M799.2 1018.64L809.7 1036.44L788.7 1036.44Z" fill="#fff" stroke="#0000aa" stroke-width="3" stroke-linejoin="round"/>
<text x="835" y="1038.34" class="t" font-size="25.8">A+M+L1</text>
<path d="M769.1 1062.58H787.4M810.9 1062.58H829.2" stroke="#000000" stroke-width="2" stroke-linecap="round"/>
<rect x="791.9" y="1055.28" width="14.6" height="14.6" fill="#fff" stroke="#000000" stroke-width="3"/>
<text x="835" y="1070.48" class="t" font-size="25.8">A+M+L2</text>
</svg></body></html>
